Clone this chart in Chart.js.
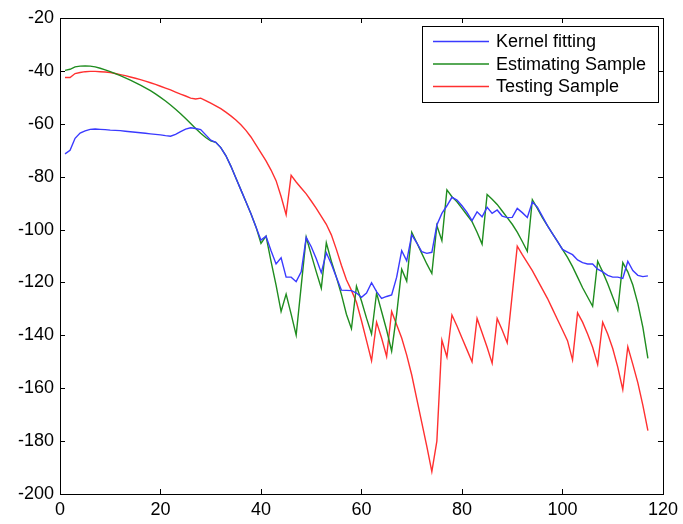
<!DOCTYPE html>
<html>
<head>
<meta charset="utf-8">
<script src="https://cdn.jsdelivr.net/npm/chart.js@4.4.1/dist/chart.umd.min.js"></script>
<style>
  html, body { margin: 0; padding: 0; background: #fff; }
  #wrap { width: 683px; height: 524px; }
</style>
</head>
<body>
<div id="wrap"><canvas id="chart" width="683" height="524"></canvas></div>
<script>
// values, sample index 1..117
const kernelFitting = [
  -71.4, -70, -65.5, -63.5, -62.7, -62.1, -62, -62.1, -62.2, -62.4,
  -62.5, -62.6, -62.8, -63, -63.2, -63.4, -63.6, -63.8, -64, -64.2,
  -64.5, -64.7, -64, -63, -62, -61.5, -61.8, -62.2, -64.2, -66.2,
  -67, -69, -72, -76, -80.5, -85, -89.5, -94, -99, -104,
  -102.5, -108, -113, -110.7, -118, -118, -119.7, -116, -103, -106.5,
  -111, -116.3, -108.8, -113, -118, -122.9, -123, -123.1, -124, -125.6,
  -124, -120.1, -123.5, -126, -125.3, -124.7, -118, -108, -111.8, -102,
  -105, -108.4, -109, -108.6, -98.3, -93.9, -91, -87.8, -88.8, -91,
  -93.5, -96.6, -93.3, -95.2, -91.6, -93.9, -92.6, -94.9, -95.5, -95.4,
  -92, -93.6, -95.4, -89.6, -91.5, -95, -98.5, -101.5, -104.5, -107.5,
  -108.5, -109.5, -111.5, -112.5, -113, -113, -115, -116, -117.3, -118,
  -118, -118.5, -112, -115.5, -117.3, -117.8, -117.5
];
const estimatingSample = [
  -39.8, -39.4, -38.5, -38.2, -38.1, -38.2, -38.5, -39, -39.6, -40.3,
  -41, -41.8, -42.6, -43.5, -44.4, -45.4, -46.4, -47.5, -48.7, -50,
  -51.4, -52.9, -54.5, -56.2, -58, -59.9, -61.8, -63.6, -65.2, -66.5,
  -67, -69, -72, -76, -80.5, -85, -89.5, -94, -99, -105.2,
  -102.5, -112, -121, -131, -124.4, -132, -139.9, -121.4, -102.9, -109.5,
  -116, -122.2, -105, -112, -118, -124.5, -132, -137.5, -121.4, -127,
  -133.5, -139.5, -124, -131, -138, -146, -132, -115, -119.5, -101,
  -105, -109, -113, -116.6, -98.5, -104.2, -85, -87.6, -89.5, -92,
  -94.5, -97, -101, -105.5, -86.7, -88.5, -90.5, -93, -95.5, -98,
  -101, -104.5, -108.2, -88.7, -92, -95.5, -98.5, -101.5, -104.5, -107.5,
  -110.5, -114, -118, -122, -125.5, -129, -112, -116, -120.5, -125.5,
  -130.5, -112.5, -116, -121, -128, -137, -148.7
];
const testingSample = [
  -42.5, -42.5, -41, -40.6, -40.3, -40.2, -40.2, -40.3, -40.4, -40.6,
  -41, -41.4, -41.8, -42.3, -42.8, -43.3, -43.9, -44.5, -45.1, -45.8,
  -46.5, -47.2, -48, -48.8, -49.5, -50.3, -50.6, -50.3, -51.2, -52.2,
  -53.2, -54.3, -55.6, -57, -58.6, -60.4, -62.5, -65, -68, -71,
  -74, -77.5, -81.5, -87.5, -94.4, -79.5, -82, -84.3, -86.5, -89.2,
  -92, -95, -98, -102, -107.5, -113.5, -119, -123, -127.5, -134.5,
  -142, -149.6, -135, -141, -148, -131, -136, -141, -147.5, -155,
  -164, -173, -182, -191.5, -180, -141.8, -148.2, -132.3, -136.5, -141,
  -145.5, -150, -133.6, -139, -144.5, -150.5, -133.6, -138, -142.8, -124.5,
  -106.3, -109.5, -112.5, -115.5, -119, -122.5, -126, -130, -134, -138,
  -142, -149.3, -131.5, -135, -139.5, -144.5, -151, -135, -139.5, -145,
  -152, -160.5, -144.3, -151, -158, -166.5, -176
];
const seriesNames = ['Kernel fitting', 'Estimating Sample', 'Testing Sample'];
const seriesColors = ['#3a3aff', '#1f8c1f', '#ff3030'];
const xTicks = [0, 20, 40, 60, 80, 100, 120];
const yTicks = [-200, -180, -160, -140, -120, -100, -80, -60, -40, -20];

function toPoints(values) {
  return values.map((v, i) => ({ x: i + 1, y: v }));
}

// matlab style frame with inward ticks on all four sides
const frame = {
  id: 'frame',
  afterDraw(chart) {
    const { ctx, chartArea: a, scales } = chart;
    const len = 5;
    ctx.save();
    ctx.strokeStyle = '#000';
    ctx.lineWidth = 1;
    ctx.beginPath();
    xTicks.forEach(t => {
      const px = Math.round(scales.x.getPixelForValue(t)) + 0.5;
      ctx.moveTo(px, a.bottom); ctx.lineTo(px, a.bottom - len);
      ctx.moveTo(px, a.top); ctx.lineTo(px, a.top + len);
    });
    yTicks.forEach(t => {
      const py = Math.round(scales.y.getPixelForValue(t)) + 0.5;
      ctx.moveTo(a.left, py); ctx.lineTo(a.left + len, py);
      ctx.moveTo(a.right, py); ctx.lineTo(a.right - len, py);
    });
    ctx.stroke();
    ctx.strokeRect(Math.round(a.left) + 0.5, Math.round(a.top) + 0.5,
      Math.round(a.right - a.left), Math.round(a.bottom - a.top));
    ctx.restore();
  }
};

// boxed legend in the upper right corner
const boxLegend = {
  id: 'boxLegend',
  afterDraw(chart) {
    const ctx = chart.ctx;
    const bx = 422.5, by = 26.5, bw = 236, bh = 76;
    ctx.save();
    ctx.fillStyle = '#fff';
    ctx.fillRect(bx, by, bw, bh);
    ctx.strokeStyle = '#000';
    ctx.lineWidth = 1;
    ctx.strokeRect(bx, by, bw, bh);
    ctx.font = '18px "Liberation Sans", Arial, sans-serif';
    ctx.textBaseline = 'middle';
    chart.data.datasets.forEach((ds, i) => {
      const y = 41.5 + i * 22.5;
      ctx.strokeStyle = ds.borderColor;
      ctx.lineWidth = 1.4;
      ctx.beginPath();
      ctx.moveTo(433, y);
      ctx.lineTo(489, y);
      ctx.stroke();
      ctx.fillStyle = '#000';
      ctx.fillText(ds.label, 496, y + 1);
    });
    ctx.restore();
  }
};

const datasets = [kernelFitting, estimatingSample, testingSample].map((vals, i) => ({
  label: seriesNames[i],
  data: toPoints(vals),
  borderColor: seriesColors[i],
  borderWidth: 1.4,
  pointRadius: 0,
  tension: 0,
  fill: false
}));

new Chart(document.getElementById('chart').getContext('2d'), {
  type: 'line',
  data: { datasets },
  plugins: [frame, boxLegend],
  options: {
    responsive: false,
    animation: false,
    devicePixelRatio: 1,
    layout: { padding: { top: 18, right: 16, left: 0, bottom: 0 } },
    plugins: { legend: { display: false }, tooltip: { enabled: false } },
    scales: {
      x: {
        type: 'linear',
        min: 0,
        max: 120,
        afterBuildTicks: s => { s.ticks = xTicks.map(v => ({ value: v })); },
        afterFit: s => { s.height = 30; },
        grid: { display: false, drawTicks: false },
        border: { display: false },
        ticks: { color: '#000', padding: 5, maxRotation: 0, font: { family: '"Liberation Sans", Arial, sans-serif', size: 18 } }
      },
      y: {
        min: -200,
        max: -20,
        afterBuildTicks: s => { s.ticks = yTicks.map(v => ({ value: v })); },
        afterFit: s => { s.width = 60; },
        grid: { display: false, drawTicks: false },
        border: { display: false },
        ticks: { color: '#000', padding: 6, font: { family: '"Liberation Sans", Arial, sans-serif', size: 18 } }
      }
    }
  }
});
</script>
</body>
</html>
